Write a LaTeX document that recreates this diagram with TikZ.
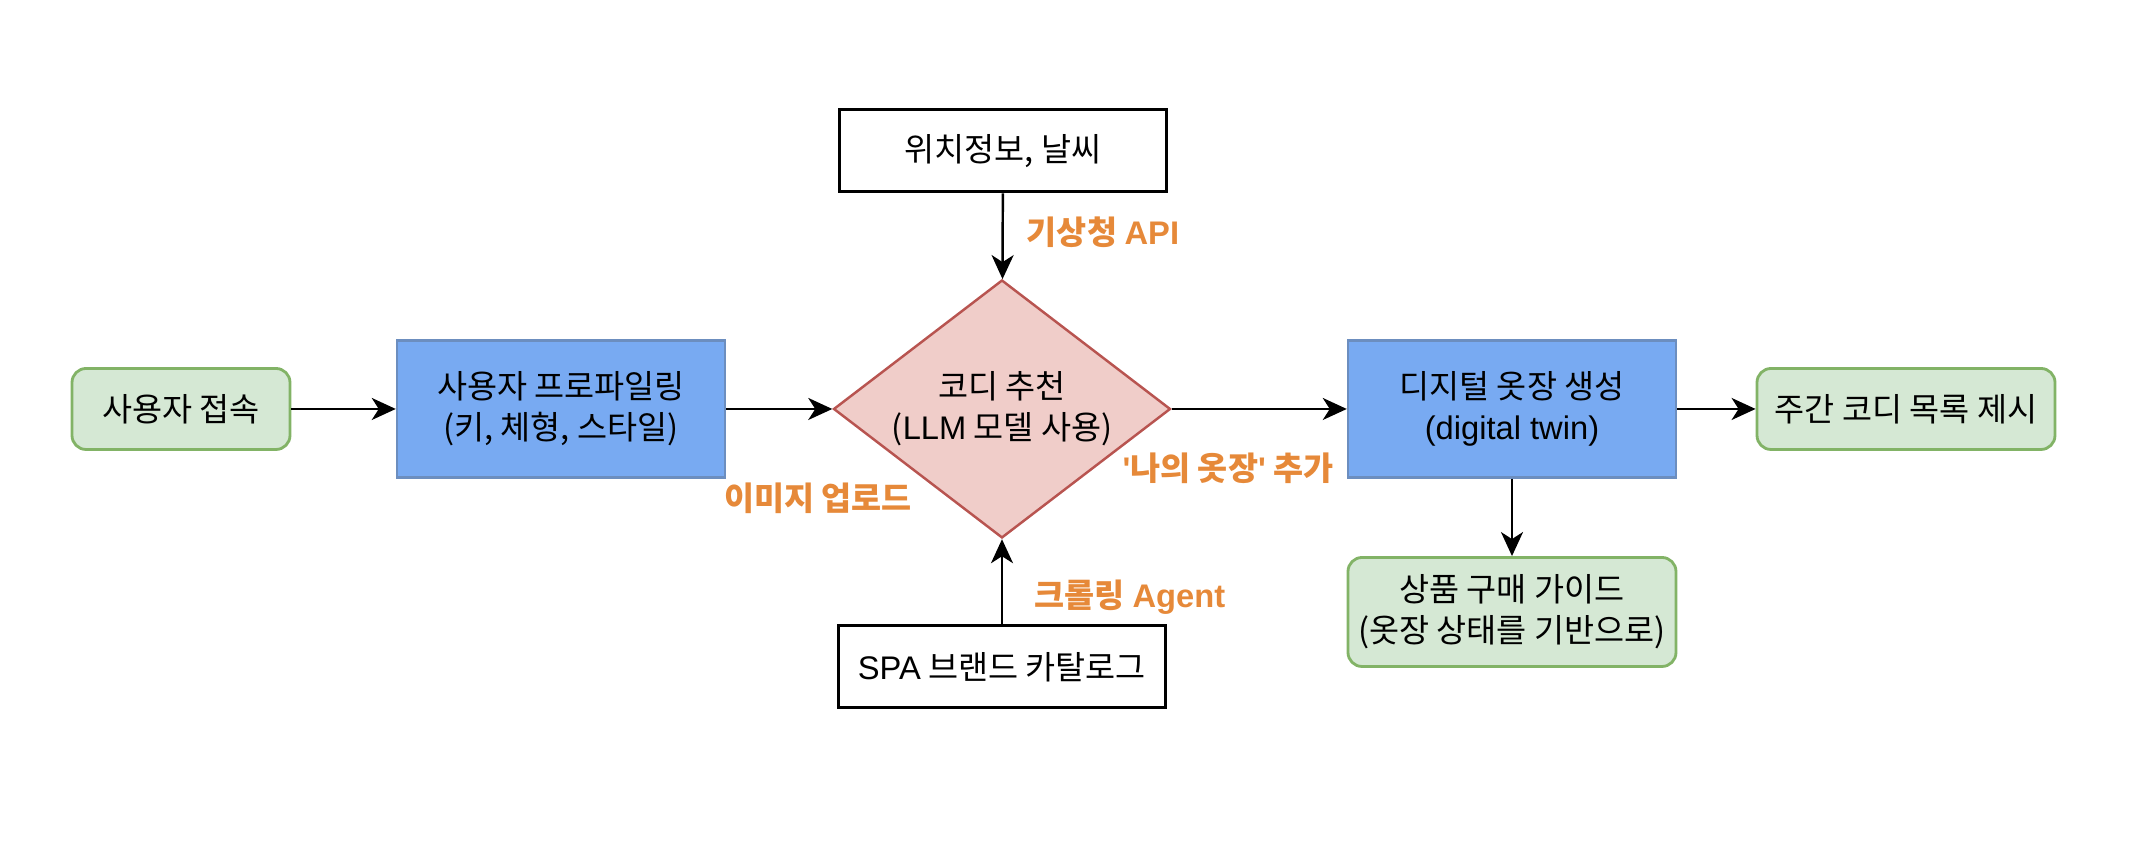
\documentclass[tikz,border=0pt]{standalone}
\usepackage{fontspec}
\setmainfont{Noto Sans CJK KR}
\newfontfamily\lat{Liberation Sans}
\usetikzlibrary{shapes.geometric,arrows.meta}
\definecolor{greenfill}{HTML}{D5E8D4}
\definecolor{greenline}{HTML}{82B366}
\definecolor{bluefill}{RGB}{120,170,242}
\definecolor{blueline}{HTML}{6C8EBF}
\definecolor{redfill}{HTML}{F0CDC9}
\definecolor{redline}{HTML}{B85450}
\definecolor{lblorange}{RGB}{230,137,57}

\begin{document}
\begin{tikzpicture}[
  every node/.style={font=\fontsize{9.3pt}{11.7pt}\selectfont, align=center, inner sep=0pt},
  arr/.style={-{Stealth[length=0.24cm,width=0.22cm,inset=0.07cm]}, line width=0.7pt},
  greenbox/.style={draw=greenline, fill=greenfill, rounded corners=0.14cm, line width=0.8pt},
  bluebox/.style={draw=blueline, fill=bluefill, line width=0.7pt, minimum width=3.28cm, minimum height=1.37cm},
  plainbox/.style={draw=black, fill=white, line width=0.85pt, minimum width=3.27cm, minimum height=0.82cm},
  decide/.style={diamond, draw=redline, fill=redfill, line width=0.7pt, aspect=1.31, minimum width=3.37cm, minimum height=2.58cm},
  lbl/.style={text=lblorange, font=\fontsize{9.3pt}{11.7pt}\selectfont\bfseries}
]
  \useasboundingbox (0,0) rectangle (21.32,8.44);
  \node[greenbox, minimum width=2.18cm, minimum height=0.81cm] (access) at (1.81,4.35) {사용자 접속};
  \node[bluebox] (profile) at (5.61,4.35) {사용자 프로파일링\\(키, 체형, 스타일)};
  \node[decide] (reco) at (10.02,4.35) {코디 추천\\({\lat LLM} 모델 사용)};
  \node[plainbox] (weather) at (10.03,6.93) {위치정보, 날씨};
  \node[plainbox] (catalog) at (10.02,1.77) {{\lat SPA} 브랜드 카탈로그};
  \node[bluebox] (closet) at (15.12,4.35) {디지털 옷장 생성\\{\lat (digital twin)}};
  \node[greenbox, minimum width=2.98cm, minimum height=0.81cm] (weekly) at (19.06,4.35) {주간 코디 목록 제시};
  \node[greenbox, minimum width=3.28cm, minimum height=1.09cm] (guide) at (15.12,2.32) {상품 구매 가이드\\(옷장 상태를 기반으로)};
  \node[lbl] (api) at (11.03,6.12) {기상청 {\lat\bfseries API}};
  \node[lbl] (upload) at (8.18,3.46) {이미지 업로드};
  \node[lbl] (mycloset) at (12.28,3.76) {{\lat\bfseries '}나의 옷장{\lat\bfseries '} 추가};
  \node[lbl] (crawl) at (11.30,2.47) {크롤링 {\lat\bfseries Agent}};
  \draw[arr] (access)--(profile);
  \draw[arr] (profile)--(reco);
  \draw[arr] (weather)--(reco);
  \draw[arr] (catalog)--(reco);
  \draw[arr] (reco)--(closet);
  \draw[arr] (closet)--(weekly);
  \draw[arr] (closet)--(guide);
\end{tikzpicture}
\end{document}
